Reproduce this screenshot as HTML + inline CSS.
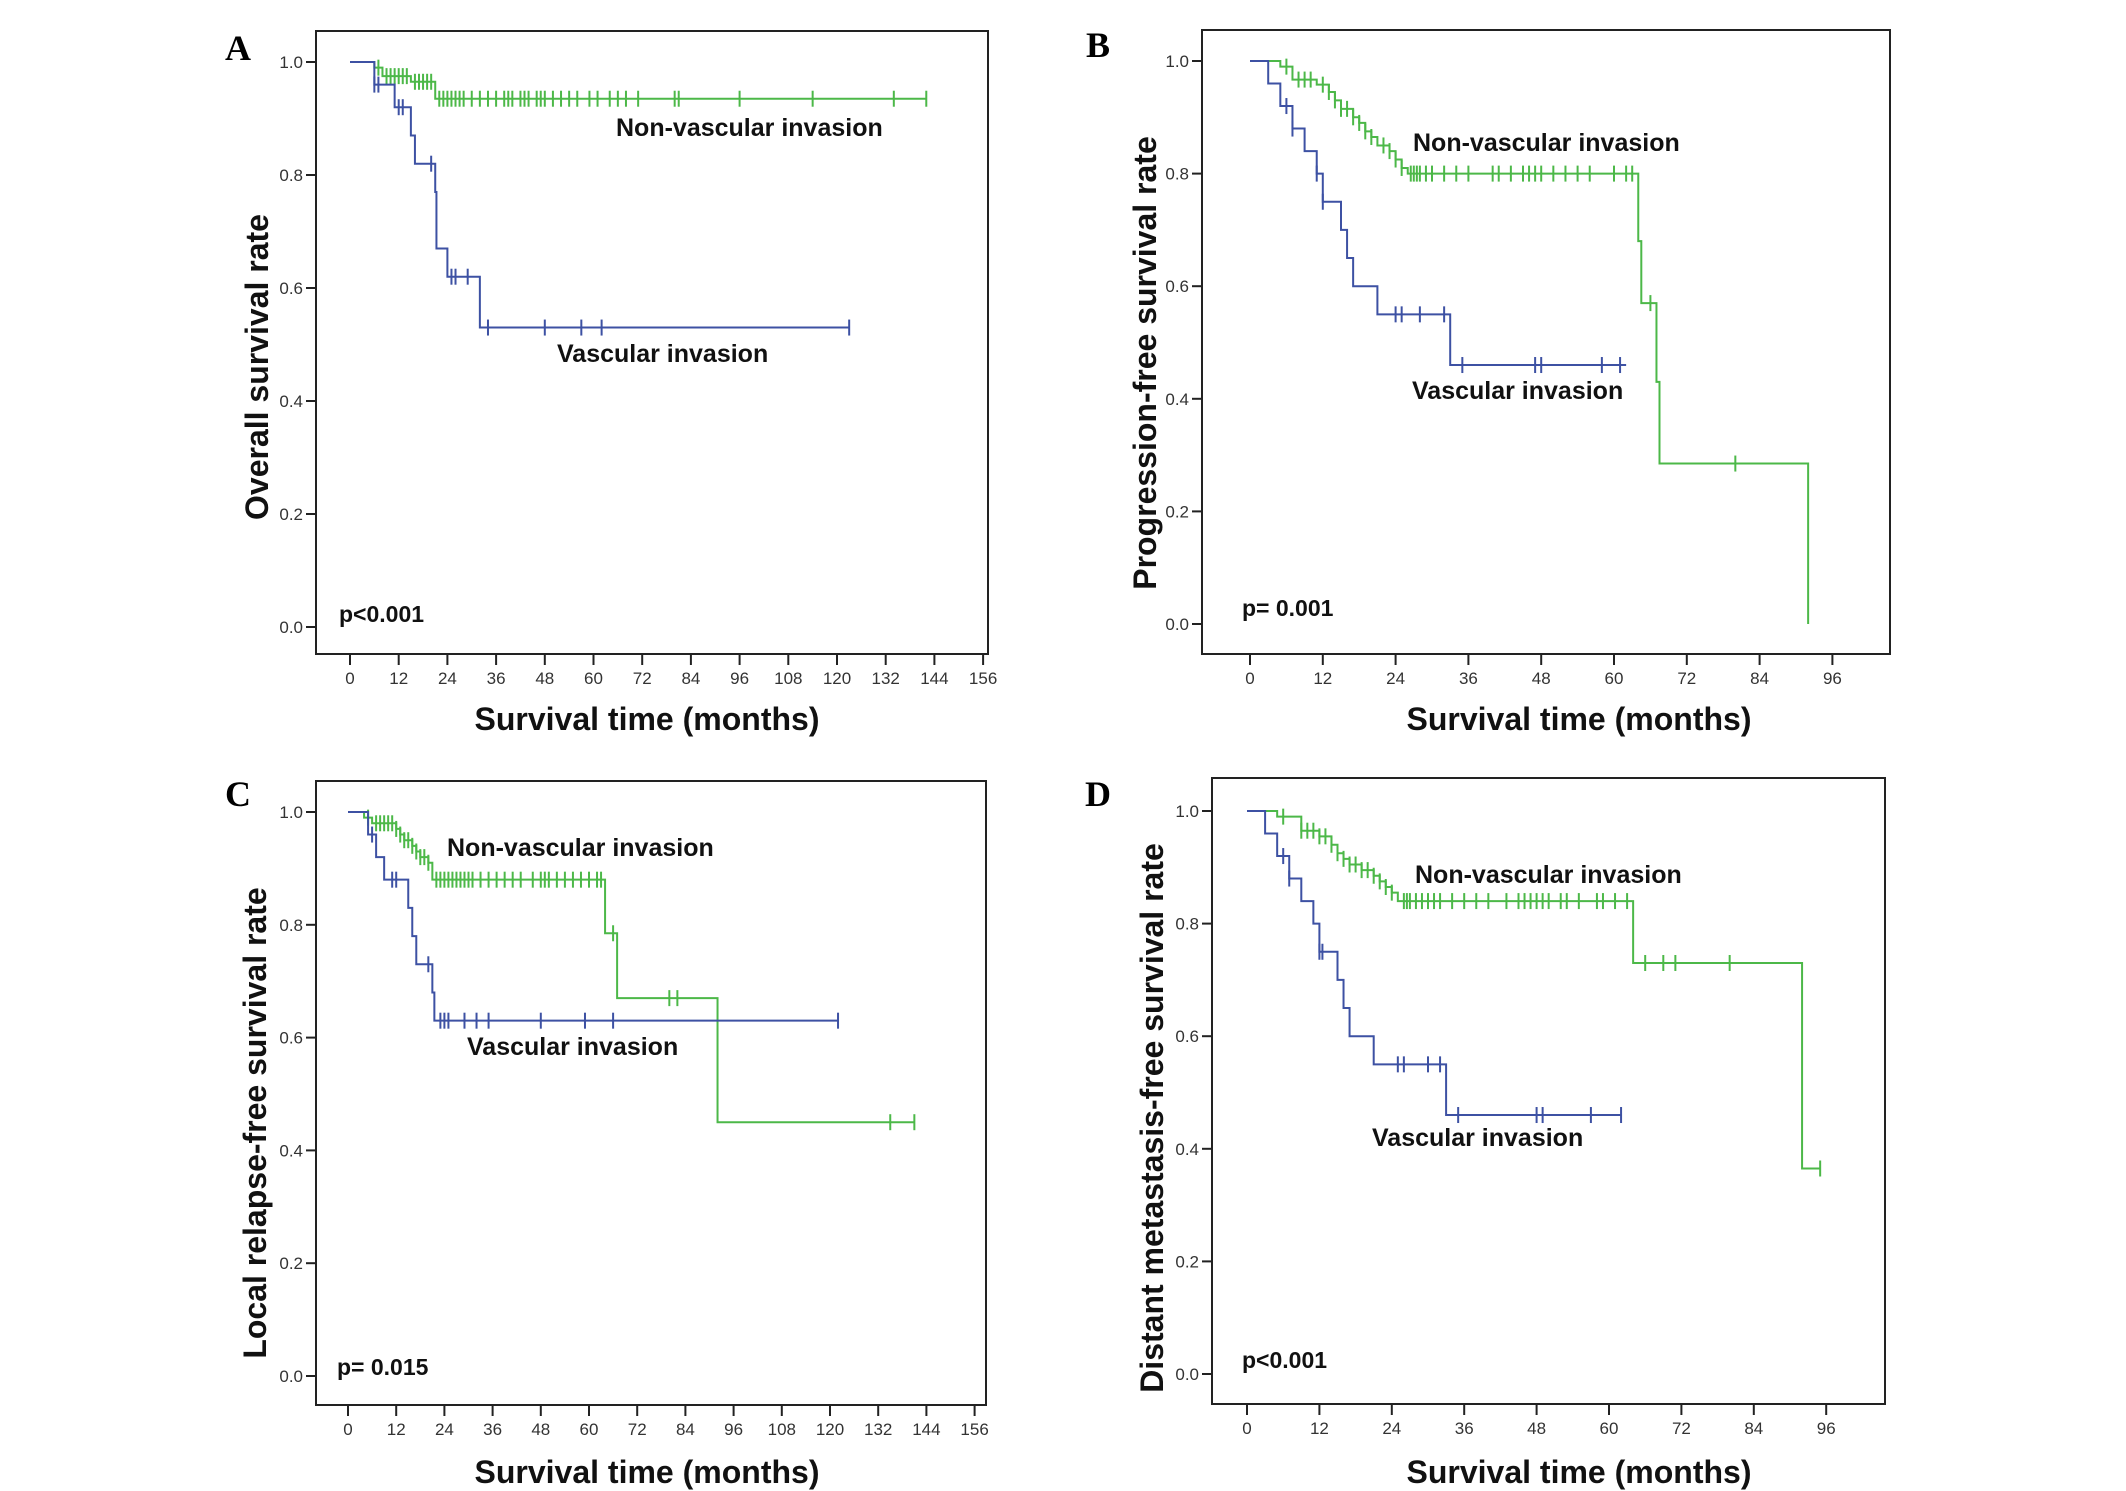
<!DOCTYPE html>
<html><head><meta charset="utf-8">
<style>
html,body{margin:0;padding:0;background:#fff;}
svg{display:block;font-family:"Liberation Sans",Arial,sans-serif;}
.tk{font-size:17px;fill:#333;}
.ttl{font-size:32px;font-weight:bold;fill:#111;}
.lbl{font-size:25px;font-weight:bold;fill:#111;}
.pv{font-size:23px;font-weight:bold;fill:#111;}
.let{font-family:"Liberation Serif",serif;font-size:36px;font-weight:bold;fill:#000;}
</style></head>
<body>
<svg id="fig" width="2126" height="1491" viewBox="0 0 2126 1491"></svg>
<script>
// ---------- Data ----------
// Panel A: overall survival
const aGreenT=[6,8,15,21];
const aGreenS=[0.99,0.975,0.965,0.935];
const aGreenEnd=142;
const aGreenC=[7,9,10,11,12,13,14,16,17,18,19,20,22,23,24,25,26,27,28,30,32,34,36,38,39,40,42,43,44,46,47,48,50,52,54,56,59,61,64,66,68,71,80,81,96,114,134,142];
const aBlueT=[6,11,15,16,21,21.3,24,32];
const aBlueS=[0.96,0.92,0.87,0.82,0.77,0.67,0.62,0.53];
const aBlueEnd=123;
const aBlueC=[6,7,12,13,20,25,26,29,34,48,57,62,123];
// Panel B: progression-free
const bGreenT=[5,7,11,13,14,15,17,18,19,20,21,23,24,25,26,64,64.5,67,67.5,92];
const bGreenS=[0.99,0.967,0.958,0.945,0.93,0.915,0.9,0.89,0.875,0.865,0.85,0.84,0.825,0.81,0.8,0.68,0.57,0.43,0.285,0.0];
const bGreenEnd=92;
const bGreenC=[6,8,9,10,12,13,14,15,16,17,18,19,20,22,23,24,25,26.5,27,27.5,28,29,30,32,34,36,40,41,43,45,46,47,48,50,52,54,56,60,62,63,66,80];
const bBlueT=[3,5,7,9,11,12,15,16,17,21,33];
const bBlueS=[0.96,0.92,0.88,0.84,0.80,0.75,0.70,0.65,0.60,0.55,0.46];
const bBlueEnd=62;
const bBlueC=[6,7,11,12,24,25,28,32,35,47,48,58,61];
// Panel C: local relapse-free
const cGreenT=[4,6,12,13,14,16,17,18,20,21,64,67,92];
const cGreenS=[0.99,0.98,0.97,0.96,0.95,0.94,0.93,0.92,0.91,0.88,0.785,0.67,0.45];
const cGreenEnd=141;
const cGreenC=[5,7,8,9,10,11,12,13,14,15,16,17,18,19,20,22,23,24,25,26,27,28,29,30,31,33,35,37,39,41,43,46,48,49,50,52,54,56,58,60,62,63,66,80,82,135,141];
const cBlueT=[5,7,9,15,16,17,21,21.5];
const cBlueS=[0.96,0.92,0.88,0.83,0.78,0.73,0.68,0.63];
const cBlueEnd=122;
const cBlueC=[6,11,12,20,23,24,25,29,32,35,48,59,66,122];
// Panel D: distant metastasis-free
const dGreenT=[5,9,12,14,15,16,17,19,21,22,23,24,25,64,92];
const dGreenS=[0.99,0.965,0.955,0.94,0.925,0.915,0.905,0.895,0.885,0.875,0.865,0.855,0.84,0.73,0.365];
const dGreenEnd=95;
const dGreenC=[6,9,10,11,12,13,14,15,16,17,18,19,20,21,22,23,24,26,26.5,27,28,29,30,31,32,34,36,38,40,43,45,46,47,48,49,50,52,53,55,58,59,61,63,66,69,71,80,95];
const dBlueT=[3,5,7,9,11,12,15,16,17,21,33];
const dBlueS=[0.96,0.92,0.88,0.84,0.80,0.75,0.70,0.65,0.60,0.55,0.46];
const dBlueEnd=62;
const dBlueC=[6,7,12,12.5,25,26,30,32,35,48,49,57,62];

const xTicksLong=[0,12,24,36,48,60,72,84,96,108,120,132,144,156];
const xTicksShort=[0,12,24,36,48,60,72,84,96];
const yTicks=[0,0.2,0.4,0.6,0.8,1.0];
const yTickLabels=["0.0","0.2","0.4","0.6","0.8","1.0"];

// ---------- Drawing ----------
const NS="http://www.w3.org/2000/svg";
const svg=document.getElementById('fig');
function mk(tag,attrs,parent){const e=document.createElementNS(NS,tag);for(const k in attrs)e.setAttribute(k,attrs[k]);(parent||svg).appendChild(e);return e;}
const GREEN="#4cb848",BLUE="#3d51a3";

function survAt(T,S,t){let s=1;for(let i=0;i<T.length;i++){if(T[i]<=t)s=S[i];}return s;}

function panel(p){
  const g=mk('g',{});
  
  
  const sx=t=>p.x0+(p.x12-p.x0)*t/12;
  const sy=v=>p.y0+(p.y1-p.y0)*v;
  const box=mk('rect',{x:p.bx,y:p.by,width:p.bw,height:p.bh,fill:'none',stroke:'#222','stroke-width':2},g);
  
  
  yTicks.forEach((v,i)=>{
    const y=sy(v);
    mk('line',{x1:p.bx-10,x2:p.bx,y1:y,y2:y,stroke:'#222','stroke-width':2},g);
    const t=mk('text',{x:p.bx-13,y:y+6,'text-anchor':'end',class:'tk'},g);
    t.textContent=yTickLabels[i];
    
    
  });
  p.xt.forEach(v=>{
    const x=sx(v);
    mk('line',{x1:x,x2:x,y1:p.by+p.bh,y2:p.by+p.bh+11,stroke:'#222','stroke-width':2},g);
    const t=mk('text',{x:x,y:p.by+p.bh+30,'text-anchor':'middle',class:'tk'},g);
    t.textContent=String(v);
    
    
  });
  [[p.g,GREEN,'non-vascular-curve'],[p.b,BLUE,'vascular-curve']].forEach(([c,col,name])=>{
    let d='M'+sx(0)+','+sy(1);
    for(let i=0;i<c.T.length;i++){d+=' H'+sx(c.T[i])+' V'+sy(c.S[i]);}
    d+=' H'+sx(c.end);
    const path=mk('path',{d:d,fill:'none',stroke:col,'stroke-width':2},g);
    
    
    c.C.forEach(t=>{
      const y=sy(survAt(c.T,c.S,t)),x=sx(t);
      const m=mk('line',{x1:x,x2:x,y1:y-8,y2:y+8,stroke:col,'stroke-width':2},g);
      
      
    });
  });
  const tx=(x,y,cls,txt,name,extra)=>{const t=mk('text',Object.assign({x:x,y:y,class:cls},extra||{}),g);t.textContent=txt;return t;};
  tx(p.nl[0],p.nl[1],'lbl','Non-vascular invasion','non-vascular-label');
  tx(p.vl[0],p.vl[1],'lbl','Vascular invasion','vascular-label');
  tx(p.pl[0],p.pl[1],'pv',p.p,'p-value');
  tx(p.let[0],p.let[1],'let',p.id,'panel-letter',{'text-anchor':'middle'});
  tx(p.xl[0],p.xl[1],'ttl','Survival time (months)','x-axis-title',{'text-anchor':'middle'});
  tx(0,0,'ttl',p.yt,'y-axis-title',{'text-anchor':'middle',transform:'translate('+p.yl[0]+','+p.yl[1]+') rotate(-90)'});
}

panel({id:'A',bx:316,by:31,bw:672,bh:623,x0:350,x12:398.7,y1:62,y0:627,xt:xTicksLong,
  g:{T:aGreenT,S:aGreenS,end:aGreenEnd,C:aGreenC},b:{T:aBlueT,S:aBlueS,end:aBlueEnd,C:aBlueC},
  nl:[616,136],vl:[557,362],pl:[339,622],p:'p<0.001',let:[238,60],xl:[647,730],yl:[268,367],yt:'Overall survival rate'});
panel({id:'B',bx:1202,by:30,bw:688,bh:624,x0:1250,x12:1322.8,y1:61,y0:624,xt:xTicksShort,
  g:{T:bGreenT,S:bGreenS,end:bGreenEnd,C:bGreenC},b:{T:bBlueT,S:bBlueS,end:bBlueEnd,C:bBlueC},
  nl:[1413,151],vl:[1412,399],pl:[1242,616],p:'p= 0.001',let:[1098,57],xl:[1579,730],yl:[1156,363],yt:'Progression-free survival rate'});
panel({id:'C',bx:316,by:781,bw:670,bh:624,x0:348,x12:396.2,y1:812,y0:1376,xt:xTicksLong,
  g:{T:cGreenT,S:cGreenS,end:cGreenEnd,C:cGreenC},b:{T:cBlueT,S:cBlueS,end:cBlueEnd,C:cBlueC},
  nl:[447,856],vl:[467,1055],pl:[337,1375],p:'p= 0.015',let:[238,806],xl:[647,1483],yl:[266,1123],yt:'Local relapse-free survival rate'});
panel({id:'D',bx:1212,by:778,bw:673,bh:626,x0:1247,x12:1319.4,y1:811,y0:1374,xt:xTicksShort,
  g:{T:dGreenT,S:dGreenS,end:dGreenEnd,C:dGreenC},b:{T:dBlueT,S:dBlueS,end:dBlueEnd,C:dBlueC},
  nl:[1415,883],vl:[1372,1146],pl:[1242,1368],p:'p<0.001',let:[1098,806],xl:[1579,1483],yl:[1163,1118],yt:'Distant metastasis-free survival rate'});
</script>
</body></html>
